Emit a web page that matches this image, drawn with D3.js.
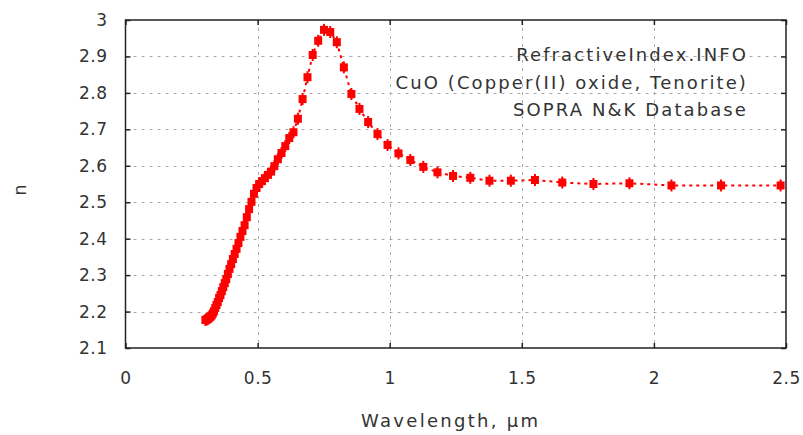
<!DOCTYPE html>
<html>
<head>
<meta charset="utf-8">
<script src="https://cdn.jsdelivr.net/npm/d3@7"></script>
<style>
  body { margin: 0; background: #fff; }
  svg text { font-family: "DejaVu Sans", sans-serif; fill: #333; }
</style>
</head>
<body>
<svg id="chart" width="803" height="435"></svg>
<script>
(function(){

    // wavelength, um
    var wavelength = [0.3024,0.3061,0.3100,0.3139,0.3179,0.3220,0.3263,0.3306,0.3351,0.3397,
        0.3444,0.3492,0.3542,0.3594,0.3646,0.3701,0.3757,0.3815,0.3874,0.3936,
        0.3999,0.4065,0.4133,0.4203,0.4275,0.4350,0.4428,0.4508,0.4592,0.4678,
        0.4768,0.4862,0.4959,0.5060,0.5166,0.5276,0.5390,0.5510,0.5636,0.5767,
        0.5904,0.6048,0.6199,0.6358,0.6525,0.6702,0.6888,0.7085,0.7293,0.7514,
        0.7749,0.7999,0.8265,0.8550,0.8856,0.9184,0.9537,0.9919,1.0332,1.0781,
        1.1271,1.1808,1.2398,1.3051,1.3776,1.4586,1.5498,1.6531,1.7712,1.9074,
        2.0664,2.2542,2.4796];
    // refractive index n
    var nValues = [2.177,2.178,2.179,2.181,2.184,2.186,2.190,2.195,2.201,2.210,
        2.218,2.226,2.237,2.245,2.256,2.267,2.278,2.289,2.303,2.317,
        2.330,2.344,2.358,2.372,2.388,2.405,2.421,2.437,2.459,2.481,
        2.501,2.523,2.539,2.550,2.558,2.566,2.575,2.584,2.599,2.618,
        2.635,2.654,2.676,2.692,2.729,2.783,2.843,2.904,2.943,2.973,
        2.967,2.939,2.870,2.797,2.756,2.720,2.687,2.657,2.634,2.616,
        2.597,2.582,2.572,2.567,2.559,2.559,2.561,2.554,2.550,2.552,
        2.546,2.546,2.546];

    var xTicks = [0,0.5,1,1.5,2,2.5];
    var yTicks = [2.1,2.2,2.3,2.4,2.5,2.6,2.7,2.8,2.9,3];
    var notes = ["RefractiveIndex.INFO","CuO (Copper(II) oxide, Tenorite)","SOPRA N&K Database"];

    var svg = d3.select("#chart");
    var left = 125.5, right = 786, top = 20, bottom = 348;

    var x = d3.scaleLinear().domain([0,2.5]).range([left,right]);
    var y = d3.scaleLinear().domain([2.1,3]).range([bottom,top]);

    //grid
    var grid = svg.append("g").attr("stroke","#aaa").attr("stroke-width",1).attr("stroke-dasharray","3,5");
    grid.selectAll(".gx").data(xTicks.slice(1,-1)).enter().append("line")
        .attr("x1",function(d){return Math.round(x(d))+0.5}).attr("x2",function(d){return Math.round(x(d))+0.5})
        .attr("y1",top).attr("y2",bottom);
    grid.selectAll(".gy").data(yTicks.slice(1,-1)).enter().append("line")
        .attr("y1",function(d){return Math.round(y(d))+0.5}).attr("y2",function(d){return Math.round(y(d))+0.5})
        .attr("x1",left).attr("x2",right);

    //axes, ticks inward
    var fmt = function(d){return d3.format("")(d)};
    var xAxis = svg.append("g").attr("transform","translate(0,"+bottom+")")
        .call(d3.axisBottom(x).tickValues(xTicks).tickSize(-5).tickPadding(24).tickFormat(fmt));
    var xTop = svg.append("g").attr("transform","translate(0,"+top+")")
        .call(d3.axisTop(x).tickValues(xTicks).tickSize(-5).tickFormat(""));
    var yAxis = svg.append("g").attr("transform","translate("+left+",0)")
        .call(d3.axisLeft(y).tickValues(yTicks).tickSize(-5).tickPadding(18).tickFormat(fmt));
    var yRight = svg.append("g").attr("transform","translate("+right+",0)")
        .call(d3.axisRight(y).tickValues(yTicks).tickSize(-5).tickFormat(""));
    svg.selectAll(".domain").remove();
    svg.selectAll(".tick line").attr("stroke","#222").attr("stroke-width",1.5);
    svg.selectAll(".tick text").attr("font-size","17px").attr("fill","#333")
        .attr("font-family","DejaVu Sans").style("letter-spacing","0.5px");

    svg.append("rect").attr("x",left).attr("y",top).attr("width",right-left).attr("height",bottom-top)
        .attr("fill","none").attr("stroke","#222").attr("stroke-width",1.5);

    //data
    var pts = wavelength.map(function(w,i){return {w:w,n:nValues[i]}});
    var line = d3.line().x(function(d){return x(d.w)}).y(function(d){return y(d.n)});
    svg.append("path").datum(pts).attr("d",line).attr("fill","none")
        .attr("stroke","#ff0000").attr("stroke-width",2).attr("stroke-dasharray","3,4");

    var marks = svg.append("g").attr("fill","#ff0000");
    marks.selectAll("rect").data(pts).enter().append("rect")
        .attr("x",function(d){return x(d.w)-4}).attr("y",function(d){return y(d.n)-4})
        .attr("width",8).attr("height",8);
    marks.selectAll(".tip").data(pts).enter().append("rect")
        .attr("x",function(d){return x(d.w)-1}).attr("y",function(d){return y(d.n)-6})
        .attr("width",2).attr("height",12);

    //labels
    svg.append("text").attr("x",(left+right)/2-5).attr("y",427).attr("text-anchor","middle")
        .attr("font-size","18px").style("letter-spacing","2.3px").text("Wavelength, µm");
    svg.append("text").attr("transform","translate(26,190) rotate(-90)").attr("text-anchor","middle")
        .attr("font-size","18px").text("n");

    svg.selectAll(".note").data(notes).enter().append("text")
        .attr("x",748).attr("y",function(d,i){return 61+i*27.5}).attr("text-anchor","end")
        .attr("font-size","18px").style("letter-spacing","2.1px").text(function(d){return d});

})();
</script>
</body>
</html>
